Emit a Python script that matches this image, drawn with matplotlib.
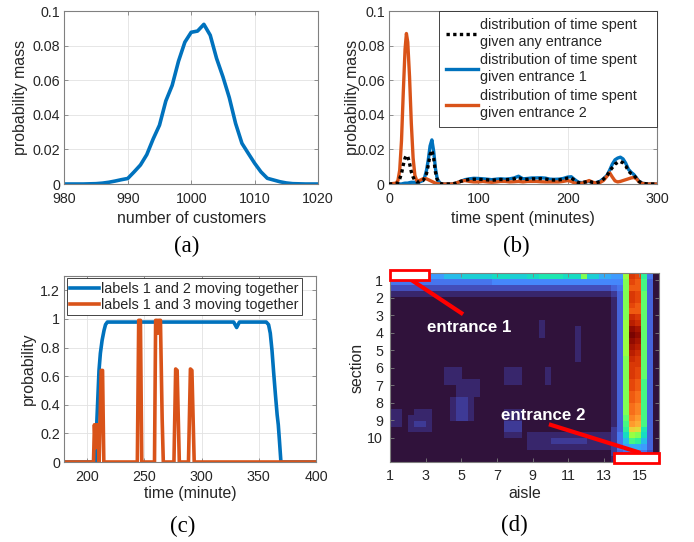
import matplotlib
matplotlib.use("Agg")
import matplotlib.pyplot as plt
import numpy as np
from matplotlib.patches import Rectangle

plt.rcParams['font.family'] = ['Liberation Sans', 'DejaVu Sans']

BLUE = '#0072BD'
ORANGE = '#D95319'
AX_GRAY = '#808080'
TXT = '#262626'

# ---- (a) distribution of number of customers
customers = list(range(980, 1021))
pmf_customers = [0, 0, 0, 0, 0.0001, 0.0002, 0.0005, 0.001, 0.0017, 0.0025,
                 0.0032, 0.007, 0.011, 0.017, 0.026, 0.034, 0.048, 0.057, 0.071, 0.082,
                 0.0877, 0.0884, 0.0923, 0.086, 0.0726, 0.062, 0.05, 0.035, 0.0235, 0.0177,
                 0.012, 0.007, 0.0033, 0.0023, 0.0013, 0.0006, 0.0002, 0.0001, 0, 0,
                 0]

# ---- (b) distribution of time spent
t_spent = [0, 8, 10, 12, 14, 16, 18, 19.5, 21, 23,
           25, 27, 29, 31, 34, 38, 40, 42, 44, 46,
           48, 50, 52, 54, 57, 60, 65, 70, 75, 80,
           85, 90, 95, 100, 105, 110, 115, 120, 125, 130,
           135, 140, 145, 150, 155, 160, 165, 170, 175, 180,
           185, 190, 195, 200, 204, 208, 212, 216, 220, 224,
           228, 232, 236, 240, 244, 247, 250, 253, 256, 259,
           262, 265, 268, 271, 274, 277, 280, 284, 290, 300]
p_entr2 = [0, 0.0005, 0.002, 0.008, 0.025, 0.053, 0.078, 0.087, 0.082, 0.062,
           0.035, 0.015, 0.005, 0.002, 0.002, 0.003, 0.003, 0.003, 0.0025, 0.002,
           0.0015, 0.001, 0.0005, 0.0002, 0, 0, 0, 0, 0.0005, 0.0015,
           0.002, 0.0015, 0.0012, 0.0012, 0.0015, 0.0012, 0.001, 0.0012, 0.0015, 0.0015,
           0.0012, 0.0013, 0.0015, 0.0012, 0.0015, 0.0015, 0.0015, 0.0013, 0.0012, 0.0012,
           0.0012, 0.0012, 0.0015, 0.002, 0.0015, 0.0005, 0.0003, 0.0005, 0.0012, 0.002,
           0.001, 0.0005, 0.0008, 0.002, 0.0045, 0.0065, 0.004, 0.0018, 0.0012, 0.0015,
           0.002, 0.0025, 0.003, 0.0035, 0.0038, 0.003, 0.0012, 0.0003, 0, 0]
p_entr1 = [0, 0, 0, 0, 0, 0.0003, 0.0005, 0.0005, 0.0005, 0.0008,
           0.001, 0.001, 0.001, 0.001, 0.0012, 0.002, 0.004, 0.008, 0.014, 0.022,
           0.0255, 0.019, 0.009, 0.003, 0.0005, 0, 0, 0, 0.0005, 0.0015,
           0.0025, 0.003, 0.0033, 0.0032, 0.003, 0.0028, 0.0025, 0.0028, 0.003, 0.0028,
           0.003, 0.0035, 0.0045, 0.003, 0.0032, 0.0035, 0.0035, 0.0036, 0.0034, 0.0028,
           0.0027, 0.0028, 0.0032, 0.004, 0.0042, 0.0025, 0.001, 0.0008, 0.0012, 0.0015,
           0.0008, 0.0008, 0.0015, 0.003, 0.005, 0.008, 0.0115, 0.014, 0.015, 0.0155,
           0.0145, 0.012, 0.0085, 0.0068, 0.0055, 0.0035, 0.0015, 0.0004, 0, 0]
p_any = [0, 0.0002, 0.0008, 0.003, 0.006, 0.011, 0.015, 0.0165, 0.016, 0.012,
         0.007, 0.004, 0.002, 0.0012, 0.0012, 0.002, 0.0035, 0.006, 0.011, 0.017,
         0.0195, 0.015, 0.007, 0.0025, 0.0004, 0, 0, 0, 0.0004, 0.0015,
         0.0022, 0.0026, 0.0028, 0.0027, 0.0026, 0.0024, 0.0022, 0.0024, 0.0026, 0.0025,
         0.0026, 0.003, 0.0037, 0.0026, 0.0027, 0.003, 0.003, 0.0031, 0.0029, 0.0024,
         0.0023, 0.0024, 0.0027, 0.0034, 0.0035, 0.002, 0.0008, 0.0007, 0.0012, 0.0016,
         0.0009, 0.0007, 0.0013, 0.0028, 0.0048, 0.0075, 0.0095, 0.0115, 0.0125, 0.013,
         0.0122, 0.0105, 0.0075, 0.006, 0.005, 0.0033, 0.0014, 0.0004, 0, 0]

# ---- (c) probability of labels moving together
t_12 = [180, 207.5, 208.3, 209.3, 210.3, 211.5, 213, 214.7, 216, 217.6,
        328, 330.6, 333, 356.5, 358.5, 360, 361.5, 363, 364.5, 366,
        367, 368, 369.3, 400]
p_12 = [0, 0, 0.26, 0.45, 0.64, 0.76, 0.85, 0.92, 0.96, 0.978,
        0.978, 0.94, 0.978, 0.978, 0.96, 0.9, 0.78, 0.62, 0.47, 0.33,
        0.26, 0.15, 0, 0]
t_13 = [180, 205.5, 206.3, 207.2, 208.3, 209.2, 210.4, 212.2, 213.4, 214.5,
        243.8, 245, 246.5, 247.7, 258.8, 259.8, 261, 261.7, 262.5, 264,
        265.5, 266.5, 275.8, 277.3, 278.6, 280.5, 288.5, 290.2, 291.5, 293.5,
        400]
p_13 = [0, 0, 0.26, 0.1, 0.26, 0.26, 0, 0.64, 0.64, 0,
        0, 0.99, 0.99, 0, 0, 0.99, 0.99, 0.9, 0.99, 0.99,
        0.3, 0, 0, 0.65, 0.64, 0, 0, 0.65, 0.64, 0,
        0]

# ---- (d) heat map of visits, sections x aisles (base-36 levels, 0..z)
heat_rows = [
    "6" * 4 + "7" * 5 + "9" * 3 + "a" * 5 + "b" * 3 + "a" * 3 + "b" * 2 + "c" * 4 + "b" * 3 + "g" + "a" * 2 + "8" * 2 + "77hutd50",
    "5" * 17 + "6" * 20 + "66gtse40",
    "3" * 37 + "45gsse40",
    "1" * 37 + "24gutf40",
    "0" * 37 + "14gutf40",
    "0" * 37 + "14gtsf40",
    "0" * 37 + "14gssf40",
    "0" * 37 + "14gvuf40",
    "0" * 25 + "1" + "0" * 11 + "14hwvf40",
    "0" * 25 + "1" + "0" * 5 + "1" + "0" * 5 + "14hyxf40",
    "0" * 25 + "1" + "0" * 5 + "1" + "0" * 5 + "14hzyf40",
    "0" * 31 + "1" + "0" * 5 + "14hyxf40",
    "0" * 31 + "1" + "0" * 5 + "14hxwf40",
    "0" * 31 + "1" + "0" * 5 + "14hwvf40",
    "0" * 31 + "1" + "0" * 5 + "14gvuf40",
    "0" * 37 + "14guuf40",
    "0" * 9 + "1" * 3 + "0" * 7 + "1" * 3 + "0" * 4 + "1" + "0" * 10 + "14gutf40",
    "0" * 9 + "1" * 3 + "0" * 7 + "1" * 3 + "0" * 4 + "1" + "0" * 10 + "14gutf40",
    "0" * 9 + "1" * 6 + "0" * 4 + "1" * 3 + "0" * 4 + "1" + "0" * 10 + "14gtse40",
    "0" * 11 + "1" * 4 + "0" * 22 + "14gtse40",
    "0" * 11 + "1" * 4 + "0" * 22 + "14gsre40",
    "0" * 10 + "1221" + "0" * 23 + "14gsre40",
    "0" * 10 + "1221" + "0" * 23 + "14grqe40",
    "11" + "00" + "111" + "000" + "1221" + "0" * 5 + "111" + "0" * 15 + "14grqe40",
    "11" + "0" + "1111" + "000" + "1221" + "0" * 5 + "111" + "0" * 15 + "14fqpe40",
    "11" + "0" + "1221" + "0" * 12 + "222" + "0" * 15 + "14epoe40",
    "000" + "1111" + "0" * 12 + "222" + "0" * 15 + "24dmlc40",
    "0" * 19 + "111" + "0" + "1" * 14 + "25bhgb40",
    "0" * 23 + "1" * 4 + "2" * 6 + "1" * 4 + "259ed940",
    "0" * 23 + "1" * 14 + "25788740",
    "0" * 37 + "24566530",
    "0" * 37 + "13344320",
]
heat = np.array([[int(c, 36) / 35 for c in row] for row in heat_rows])

fig = plt.figure(figsize=(6.94, 5.42), dpi=100)


def style(ax, grid=True):
    for s in ax.spines.values():
        s.set_color(AX_GRAY)
        s.set_linewidth(0.8)
    ax.tick_params(direction='in', length=3, width=0.6, color=AX_GRAY, labelcolor=TXT,
                   labelsize=10.3, top=True, right=True)
    ax.tick_params(axis='x', pad=6)
    ax.tick_params(axis='y', pad=3)
    if grid:
        ax.grid(True, color='#e2e2e2', lw=0.6)
        ax.set_axisbelow(True)


def labels(ax, xl, yl, xy, yx):
    ax.set_xlabel(xl, fontsize=11.4, color=TXT)
    ax.set_ylabel(yl, fontsize=11.4, color=TXT)
    ax.xaxis.set_label_coords(0.5, xy)
    ax.yaxis.set_label_coords(yx, 0.5)
    ax.xaxis.label.set_va('center')
    ax.yaxis.label.set_va('center')


# (a)
ax1 = fig.add_axes([0.0927, 0.6605, 0.3656, 0.3192])
ax1.plot(customers, pmf_customers, color=BLUE, lw=2.6)
ax1.set_xlim(980, 1020)
ax1.set_ylim(0, 0.1)
ax1.set_xticks([980, 990, 1000, 1010, 1020])
ax1.set_yticks([0, 0.02, 0.04, 0.06, 0.08, 0.1])
ax1.set_yticklabels(['0', '0.02', '0.04', '0.06', '0.08', '0.1'])
style(ax1)
labels(ax1, 'number of customers', 'probability mass', -0.1965, -0.171)

# (b)
ax2 = fig.add_axes([0.5605, 0.6605, 0.3862, 0.3192])
l1, = ax2.plot(t_spent, p_entr1, color=BLUE, lw=2.4)
l2, = ax2.plot(t_spent, p_entr2, color=ORANGE, lw=2.4)
l0, = ax2.plot(t_spent, p_any, color='black', lw=2.4, ls=(0, (1, 1)), zorder=3)
ax2.set_xlim(0, 300)
ax2.set_ylim(0, 0.1)
ax2.set_xticks([0, 100, 200, 300])
ax2.set_yticks([0, 0.02, 0.04, 0.06, 0.08, 0.1])
ax2.set_yticklabels(['0', '0.02', '0.04', '0.06', '0.08', '0.1'])
style(ax2)
labels(ax2, 'time spent (minutes)', 'probability mass', -0.1965, -0.137)
leg = ax2.legend([l0, l1, l2],
                 ['distribution of time spent\ngiven any entrance',
                  'distribution of time spent\ngiven entrance 1',
                  'distribution of time spent\ngiven entrance 2'],
                 loc='upper right', bbox_to_anchor=(0.1875, 0, 0.8125, 1), mode='expand',
                 borderaxespad=0, fontsize=10.4, handlelength=2.2, handletextpad=0.2,
                 borderpad=0.45, labelspacing=0.3, fancybox=False, framealpha=1, edgecolor=TXT)
leg.get_frame().set_linewidth(0.6)
for t in leg.get_texts():
    t.set_linespacing(1.3)
    t.set_color(TXT)

# (c)
ax3 = fig.add_axes([0.0927, 0.1476, 0.3627, 0.3432])
m1, = ax3.plot(t_12, p_12, color=BLUE, lw=2.6)
m2, = ax3.plot(t_13, p_13, color=ORANGE, lw=2.6)
ax3.set_xlim(180, 400)
ax3.set_ylim(0, 1.3)
ax3.set_xticks([200, 250, 300, 350, 400])
ax3.set_yticks([0, 0.2, 0.4, 0.6, 0.8, 1.0, 1.2])
ax3.set_yticklabels(['0', '0.2', '0.4', '0.6', '0.8', '1', '1.2'])
style(ax3)
labels(ax3, 'time (minute)', 'probability', -0.172, -0.143)
leg3 = ax3.legend([m1, m2], ['labels 1 and 2 moving together', 'labels 1 and 3 moving together'],
                  loc='upper left', bbox_to_anchor=(0.0095, 0.989), borderaxespad=0,
                  fontsize=10.4, handlelength=2.0, handletextpad=0.1, borderpad=0.25,
                  labelspacing=0.15, fancybox=False, framealpha=1, edgecolor=TXT)
leg3.get_frame().set_linewidth(0.6)
for t in leg3.get_texts():
    t.set_color(TXT)

# (d)
ax4 = fig.add_axes([0.562, 0.1476, 0.3876, 0.3487])
ax4.imshow(heat, cmap='turbo', vmin=0, vmax=1, aspect='auto', interpolation='nearest',
           extent=(1, 16.1, 11.37, 0.6))
ax4.set_xticks([1, 3, 5, 7, 9, 11, 13, 15])
ax4.set_yticks(range(1, 11))
style(ax4, grid=False)
ax4.tick_params(axis='both', pad=5)
labels(ax4, 'aisle', 'section', -0.169, -0.1227)
ax4.add_patch(Rectangle((1.0, 0.45), 2.2, 0.57, facecolor='white', edgecolor='red',
                        lw=2, clip_on=False, zorder=5))
ax4.add_patch(Rectangle((13.6, 10.85), 2.5, 0.55, facecolor='white', edgecolor='red',
                        lw=2, clip_on=False, zorder=5))
ax4.plot([2.01, 5.1], [0.87, 2.95], color='red', lw=3, solid_capstyle='butt', zorder=4)
ax4.plot([9.92, 15.06], [9.22, 10.85], color='red', lw=3, solid_capstyle='butt', zorder=4)
ax4.text(5.47, 3.68, 'entrance 1', color='white', fontsize=12.2, fontweight='bold',
         ha='center', va='center')
ax4.text(9.57, 8.70, 'entrance 2', color='white', fontsize=12.2, fontweight='bold',
         ha='center', va='center')
ax4.set_xlim(1, 16.1)
ax4.set_ylim(11.37, 0.6)

for x, y, s in [(0.2695, 0.546, '(a)'), (0.744, 0.546, '(b)'),
                (0.263, 0.028, '(c)'), (0.7406, 0.031, '(d)')]:
    fig.text(x, y, s, family='Liberation Serif', fontsize=16.5, ha='center', va='center')

fig.savefig('out.png', dpi=100)
